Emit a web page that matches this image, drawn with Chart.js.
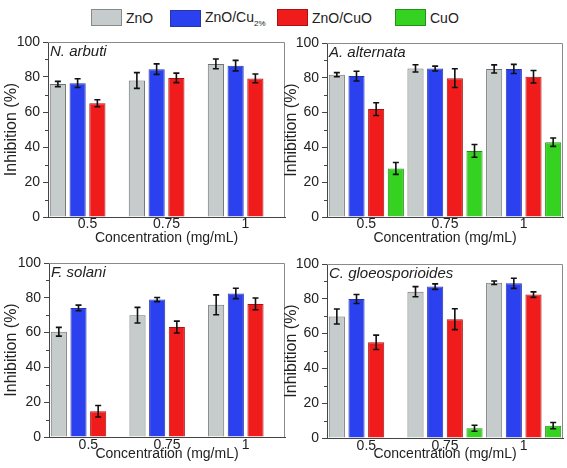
<!DOCTYPE html>
<html>
<head>
<meta charset="utf-8">
<script src="https://cdn.jsdelivr.net/npm/chart.js@4.4.1/dist/chart.umd.min.js"></script>
<style>
    html, body { margin: 0; padding: 0; background: #fff; }
    body { width: 567px; height: 468px; position: relative; overflow: hidden; font-family: "Liberation Sans", Arial, sans-serif; }
    canvas { position: absolute; }
    .legend-item { position: absolute; top: 9px; display: flex; align-items: center; font-size: 14px; color: #222; }
    .legend-box { width: 29px; height: 15px; border: 1px solid #888; margin-right: 4px; }
    .legend-item sub { font-size: 8px; vertical-align: -4px; }
</style>
</head>
<body>
<div id="legend"></div>
<canvas id="chartNA" width="290" height="220" style="left:0;top:30px"></canvas>
<canvas id="chartAA" width="287" height="220" style="left:280px;top:30px"></canvas>
<canvas id="chartFS" width="290" height="218" style="left:0;top:250px"></canvas>
<canvas id="chartCG" width="287" height="218" style="left:280px;top:250px"></canvas>
<script>
// Categories and series
const concentrations = ["0.5", "0.75", "1"];
const seriesNames = ["ZnO", "ZnO/Cu", "ZnO/CuO", "CuO"];
const seriesSub = ["", "2%", "", ""];
const yTicks = [0, 20, 40, 60, 80, 100];

// N. arbuti
const naZnO = [76, 78, 87.5];
const naZnOErr = [1.5, 4.5, 2.8];
const naCu = [76.5, 84.5, 86.5];
const naCuErr = [2.5, 3, 3];
const naZnOCuO = [65, 79.5, 79.2];
const naZnOCuOErr = [2, 2.7, 2.5];
const naCuO = [null, null, null];
const naCuOErr = [null, null, null];

// A. alternata
const aaZnO = [81.8, 85.4, 85.1];
const aaZnOErr = [1.2, 2.1, 2.3];
const aaCu = [81, 85.3, 85.1];
const aaCuErr = [2.8, 1.4, 2.6];
const aaZnOCuO = [62, 79.8, 80.6];
const aaZnOCuOErr = [3.7, 5.4, 3.6];
const aaCuO = [27.9, 38, 43];
const aaCuOErr = [3.4, 3.7, 2.4];

// F. solani
const fsZnO = [60.5, 70, 76];
const fsZnOErr = [2.5, 4.5, 5.7];
const fsCu = [74.2, 79, 82.5];
const fsCuErr = [1.6, 1.2, 3];
const fsZnOCuO = [14.8, 63.2, 76.5];
const fsZnOCuOErr = [3.3, 3.4, 3.4];
const fsCuO = [null, null, null];
const fsCuOErr = [null, null, null];

// C. gloeosporioides
const cgZnO = [69.8, 84.1, 89.2];
const cgZnOErr = [4.3, 2.9, 1];
const cgCu = [79.9, 87, 88.9];
const cgCuErr = [2.6, 1.6, 2.9];
const cgZnOCuO = [55, 68.3, 82.4];
const cgZnOCuOErr = [4.1, 6, 1.6];
const cgCuO = [null, 5.6, 7.1];
const cgCuOErr = [null, 1.7, 1.8];

// Styles
const fills = ["#c6cccb", "#2b40ee", "#f01c1c", "#36d222"];
const borders = ["#6f7272", "#2a36a8", "#a81414", "#259018"];
const legendLeft = [91, 170, 277, 395];

Chart.defaults.font.family = '"Liberation Sans", Arial, sans-serif';
Chart.defaults.color = "#222";

window.panelCharts = [];

/**
 * LEGEND (html so the subscript stays real text)
 */
function renderLegend() {
    const box = document.getElementById("legend");
    box.innerHTML = seriesNames.map((name, i) => `
        <div class="legend-item" style="left:${legendLeft[i]}px">
            <span class="legend-box" style="background:${fills[i]};border-color:${i === 0 ? '#888' : borders[i]}"></span>
            <span>${name}${seriesSub[i] ? '<sub>' + seriesSub[i] + '</sub>' : ''}</span>
        </div>
    `).join("");
}

/**
 * Frame, minor ticks, error bars and panel name
 */
const panelExtras = {
    id: "panelExtras",
    afterDatasetsDraw(chart) {
        const ctx = chart.ctx;
        const y = chart.scales.y;
        const errs = chart.options.plugins.panelExtras.errors;

        ctx.save();
        ctx.strokeStyle = "#111";
        ctx.lineWidth = 1.6;
        chart.data.datasets.forEach((ds, di) => {
            const meta = chart.getDatasetMeta(di);
            meta.data.forEach((bar, i) => {
                const v = ds.data[i];
                const e = errs[di][i];
                if (v == null || e == null) return;
                const yTop = y.getPixelForValue(v + e);
                const yBot = y.getPixelForValue(v - e);
                ctx.beginPath();
                ctx.moveTo(bar.x, yTop); ctx.lineTo(bar.x, yBot);
                ctx.moveTo(bar.x - 3, yTop); ctx.lineTo(bar.x + 3, yTop);
                ctx.moveTo(bar.x - 3, yBot); ctx.lineTo(bar.x + 3, yBot);
                ctx.stroke();
            });
        });
        ctx.restore();
    },
    afterDraw(chart) {
        const ctx = chart.ctx;
        const a = chart.chartArea;
        const y = chart.scales.y;
        ctx.save();
        // top and right frame
        ctx.strokeStyle = "#8a8a8a";
        ctx.lineWidth = 1;
        ctx.beginPath();
        ctx.moveTo(a.left, a.top + 0.5); ctx.lineTo(a.right - 0.5, a.top + 0.5); ctx.lineTo(a.right - 0.5, a.bottom);
        ctx.stroke();
        // minor ticks
        ctx.strokeStyle = "#444";
        ctx.beginPath();
        for (let v = 10; v < 100; v += 20) {
            const py = Math.round(y.getPixelForValue(v)) + 0.5;
            ctx.moveTo(a.left - 3, py); ctx.lineTo(a.left, py);
        }
        ctx.stroke();
        // panel name
        ctx.fillStyle = "#222";
        ctx.font = 'italic 15px "Liberation Sans", Arial, sans-serif';
        ctx.textBaseline = "middle";
        ctx.fillText(chart.options.plugins.panelExtras.name, a.left + 2, a.top + 10);
        ctx.restore();
    }
};

function makePanel(canvasId, name, values, errors, pad, axisW, axisH, titleGap, tickGap) {
    const datasets = values.map((vals, i) => ({
        label: seriesNames[i],
        data: vals,
        backgroundColor: fills[i],
        borderColor: borders[i],
        borderWidth: 1,
        barPercentage: 0.82,
        categoryPercentage: 1.0
    }));

    return new Chart(document.getElementById(canvasId), {
        type: "bar",
        data: { labels: concentrations, datasets: datasets },
        options: {
            responsive: false,
            animation: false,
            layout: { padding: pad },
            plugins: {
                legend: { display: false },
                tooltip: { enabled: false },
                panelExtras: { name: name, errors: errors }
            },
            scales: {
                x: {
                    grid: { display: false, drawTicks: false },
                    border: { display: true, color: "#444", width: 1 },
                    ticks: { font: { size: 14, lineHeight: 1 }, padding: tickGap, color: "#222" },
                    title: { display: true, text: "Concentration (mg/mL)", font: { size: 14 }, padding: { top: 0, bottom: titleGap }, color: "#222" },
                    afterFit: s => { s.height = axisH; }
                },
                y: {
                    min: 0, max: 100,
                    afterBuildTicks: s => { s.ticks = yTicks.map(v => ({ value: v })); },
                    grid: { display: true, drawOnChartArea: false, drawTicks: true, tickLength: 5, color: "#444" },
                    border: { display: true, color: "#444", width: 1 },
                    ticks: { font: { size: 14 }, padding: 3, color: "#222" },
                    title: { display: true, text: "Inhibition (%)", font: { size: 16 }, padding: { top: 1.5, bottom: 0 }, color: "#222" },
                    afterFit: s => { s.width = axisW; }
                }
            }
        },
        plugins: [panelExtras]
    });
}

/**
 * MASTER RENDER
 */
function renderAll() {
    renderLegend();
    window.panelCharts.push(makePanel("chartNA", "N. arbuti",
        [naZnO, naCu, naZnOCuO, naCuO], [naZnOErr, naCuErr, naZnOCuOErr, naCuOErr],
        { top: 12, right: 5, left: 0, bottom: 0 }, 48, 33, 3.6, 0));
    window.panelCharts.push(makePanel("chartAA", "A. alternata",
        [aaZnO, aaCu, aaZnOCuO, aaCuO], [aaZnOErr, aaCuErr, aaZnOCuOErr, aaCuOErr],
        { top: 13, right: 4, left: 0, bottom: 0 }, 47, 33, 3.6, 0));
    window.panelCharts.push(makePanel("chartFS", "F. solani",
        [fsZnO, fsCu, fsZnOCuO, fsCuO], [fsZnOErr, fsCuErr, fsZnOCuOErr, fsCuOErr],
        { top: 13, right: 5, left: 0, bottom: 0 }, 49, 31, 5.6, 1));
    window.panelCharts.push(makePanel("chartCG", "C. gloeosporioides",
        [cgZnO, cgCu, cgZnOCuO, cgCuO], [cgZnOErr, cgCuErr, cgZnOCuOErr, cgCuOErr],
        { top: 14, right: 4, left: 0, bottom: 0 }, 47, 30, 5.6, 1));
}

renderAll();
</script>
</body>
</html>
